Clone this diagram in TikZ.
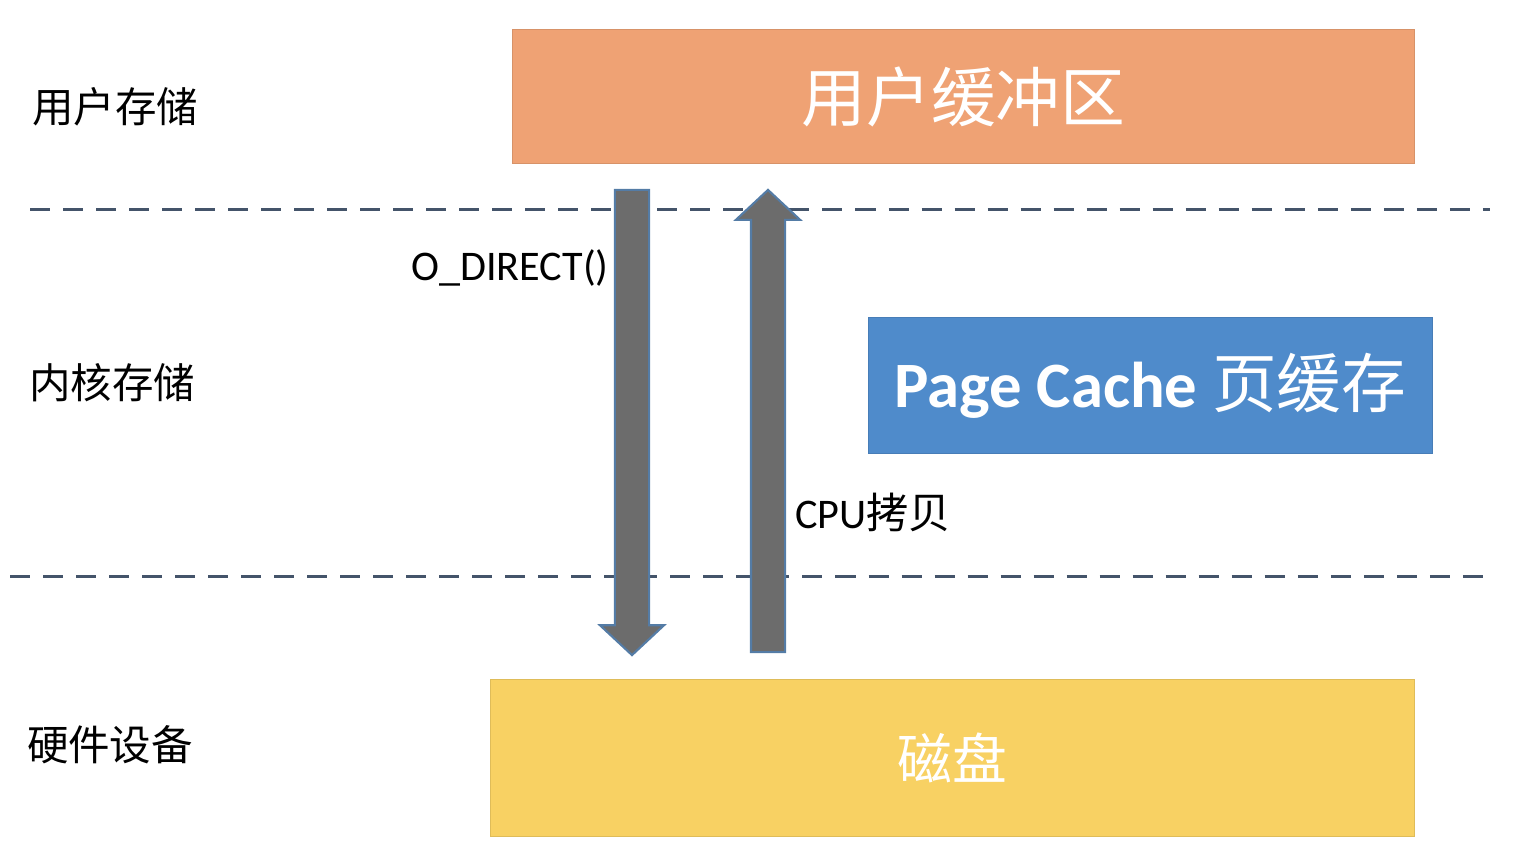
\documentclass[tikz,border=0pt]{standalone}
\usepackage{fontspec}
\setmainfont{Carlito}
\newfontfamily\cjk{Noto Sans CJK SC}
\usetikzlibrary{shapes.arrows,positioning}
\definecolor{UserOrange}{RGB}{239,162,116}
\definecolor{CacheBlue}{RGB}{79,139,203}
\definecolor{DiskYellow}{RGB}{248,209,99}
\definecolor{ArrowGray}{RGB}{108,108,108}
\definecolor{ArrowEdge}{RGB}{84,124,166}
\definecolor{SepSlate}{RGB}{68,84,106}
\tikzset{
  obox/.style={fill=UserOrange,draw=UserOrange!90!black,line width=0.3pt,
               inner sep=0pt,text=white,font=\cjk\fontsize{18.4}{20}\selectfont},
  bbox/.style={fill=CacheBlue,draw=CacheBlue!90!black,line width=0.3pt,
               inner sep=0pt,text=white,font=\fontsize{18.4}{20}\selectfont},
  ybox/.style={fill=DiskYellow,draw=DiskYellow!90!black,line width=0.3pt,
               inner sep=0pt,text=white,font=\cjk\fontsize{15.6}{18}\selectfont},
  lvl/.style={font=\cjk\fontsize{11.8}{14}\selectfont,text=black},
  lbl/.style={font=\fontsize{12}{14}\selectfont,text=black},
  blockarr/.style={single arrow,fill=ArrowGray,draw=ArrowEdge,line width=0.6pt,
                   minimum width=0pt,inner xsep=0pt,inner ysep=0.16cm,
                   single arrow head extend=0.15cm,single arrow tip angle=94},
  sepline/.style={draw=SepSlate,line width=0.85pt,dash pattern=on 0.2cm off 0.13cm},
}
\begin{document}
\begin{tikzpicture}[x=0.01cm,y=-0.01cm]
  \useasboundingbox (0,0) rectangle (1518,866);

  % separators
  \draw[sepline] (30,209) -- (1490,209);
  \draw[sepline] (10,576) -- (1485,576);

  % layers
  \node[lvl] (ulvl) at (115,107) {用户存储};
  \node[lvl] (klvl) at (112,383) {内核存储};
  \node[lvl] (hlvl) at (110,745) {硬件设备};

  % storage blocks
  \node[obox, minimum width=9.01cm, minimum height=1.33cm] (ubuf) at (963.5,96.5) {用户缓冲区};
  \node[bbox, minimum width=5.63cm, minimum height=1.35cm] (pcache) at (1150.5,385.5)
       {\textbf{Page Cache} {\cjk 页缓存}};
  \node[ybox, minimum width=9.23cm, minimum height=1.56cm] (disk) at (952.5,758) {磁盘};

  % transfer arrows
  \node[blockarr, minimum height=4.65cm, rotate=-90] (direct) at (632,414.5) {};
  \node[blockarr, minimum height=4.62cm, rotate=90] (copy) at (768,429) {};

  \node[lbl] (dlbl) at (510,268) {O\_DIRECT()};
  \node[lbl] (clbl) at (873,512) {CPU{\cjk 拷贝}};
\end{tikzpicture}
\end{document}
